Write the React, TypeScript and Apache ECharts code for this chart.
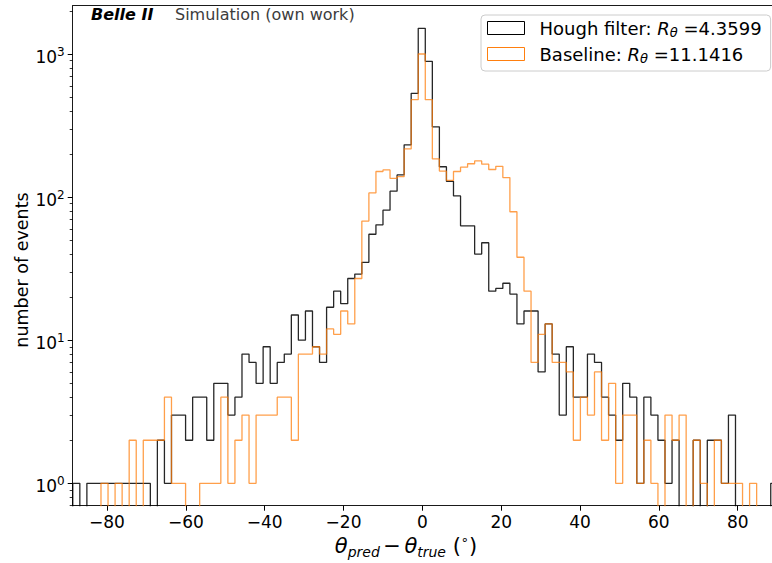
import React, { useEffect, useRef } from 'react';
import * as echarts from 'echarts';

// ---- data ----
const X_START = -88.68; // left edge of first bin (degrees)
const BIN_WIDTH = 1.7885; // bin width (degrees)
const X_MIN = -88.7;
const X_MAX = 88.7;
const Y_MIN = 0.6975;
const Y_MAX = 2176;
const X_TICKS = [-80, -60, -40, -20, 0, 20, 40, 60, 80];
const Y_DECADES = [0, 1, 2, 3];

const HOUGH_COUNTS = [
  1, 0, 1, 1, 1, 1, 1, 1, 1, 1,
  1, 0, 2, 1, 3, 3, 2, 4, 4, 2,
  5, 5, 3, 4, 8, 7, 5, 9, 5, 7,
  8, 15, 10, 16, 9, 7, 17, 22, 18, 27,
  29, 35, 55, 64, 81, 110, 143, 232, 531, 1511,
  889, 310, 163, 129, 102, 63, 63, 40, 48, 22,
  23, 25, 21, 13, 16, 16, 6, 13, 8, 3,
  9, 4, 4, 8, 7, 4, 3, 2, 5, 4,
  1, 4, 3, 2, 1, 2, 0, 0, 2, 0,
  2, 2, 1, 3, 0, 0, 0, 0, 0, 1,
];

const BASELINE_COUNTS = [
  0, 0, 0, 0, 1, 0, 1, 0, 2, 0,
  2, 2, 2, 4, 1, 1, 0, 0, 1, 1,
  1, 4, 1, 2, 3, 1, 3, 3, 3, 4,
  4, 2, 8, 8, 9, 8, 12, 11, 16, 13,
  27, 68, 107, 151, 155, 135, 139, 217, 480, 1000,
  480, 185, 152, 131, 151, 162, 171, 179, 170, 156,
  164, 137, 79, 38, 22, 7, 11, 13, 7, 7,
  6, 2, 4, 3, 6, 2, 5, 1, 3, 3,
  1, 2, 1, 0, 3, 2, 3, 0, 2, 1,
  0, 2, 1, 1, 1, 0, 1, 0, 0, 0,
];

const SERIES_NAMES = ['Hough filter', 'Baseline'];
const R_VALUES = ['4.3599', '11.1416'];

// empty bins go below the visible log range (clipped), like matplotlib
const EMPTY_BIN = 1e-3;

function stepData(counts: number[]) {
  const pts: number[][] = [[X_START, EMPTY_BIN]];
  counts.forEach((c, i) => {
    pts.push([X_START + i * BIN_WIDTH, c > 0 ? c : EMPTY_BIN]);
  });
  pts.push([X_START + counts.length * BIN_WIDTH, EMPTY_BIN]);
  return pts;
}

function minorTicks() {
  const out: number[] = [];
  for (let n = -1; n <= 3; n++) {
    for (let m = 2; m <= 9; m++) {
      const v = m * Math.pow(10, n);
      if (v >= Y_MIN && v <= Y_MAX) out.push(Math.log10(v));
    }
  }
  return out;
}

const FONT = 'DejaVu Sans';

export default function App() {
  const ref = useRef<HTMLDivElement>(null);

  useEffect(() => {
    if (!ref.current) return;
    const chart = echarts.init(ref.current, null, { renderer: 'svg' });
    const lmin = Math.log10(Y_MIN);
    const lmax = Math.log10(Y_MAX);
    const spine = { color: '#000', width: 0.9 };

    const option: any = {
      animation: false,
      backgroundColor: '#ffffff',
      grid: { left: 72.7, top: 5.7, width: 699.3, height: 500, containLabel: false },
      xAxis: [
        {
          type: 'value',
          min: X_MIN,
          max: X_MAX,
          position: 'bottom',
          axisLine: { show: true, onZero: false, lineStyle: spine },
          axisTick: { show: true, customValues: X_TICKS, length: 5, lineStyle: { color: '#000', width: 1 } },
          axisLabel: {
            show: true,
            customValues: X_TICKS,
            margin: 8,
            fontSize: 17,
            fontFamily: FONT,
            color: '#000',
            formatter: (v: number) => (v < 0 ? '\u2212' + Math.abs(v) : String(v)),
          },
          splitLine: { show: false },
        },
        {
          type: 'value',
          min: X_MIN,
          max: X_MAX,
          position: 'top',
          axisLine: { show: true, onZero: false, lineStyle: spine },
          axisTick: { show: false },
          axisLabel: { show: false },
          splitLine: { show: false },
        },
      ],
      yAxis: [
        {
          type: 'log',
          logBase: 10,
          min: Y_MIN,
          max: Y_MAX,
          axisLine: { show: false, onZero: false },
          axisTick: { show: false },
          axisLabel: { show: false },
          splitLine: { show: false },
        },
        {
          type: 'value',
          min: lmin,
          max: lmax,
          position: 'left',
          axisLine: { show: true, onZero: false, lineStyle: spine },
          axisTick: { show: true, customValues: Y_DECADES, length: 5, lineStyle: { color: '#000', width: 1 } },
          axisLabel: {
            show: true,
            customValues: Y_DECADES,
            margin: 8,
            padding: [6, 0, 0, 0],
            formatter: (v: number) => `{b|10}{s|${Math.round(v)}}`,
            rich: {
              b: { fontSize: 17, fontFamily: FONT, color: '#000', lineHeight: 22 },
              s: { fontSize: 12, fontFamily: FONT, color: '#000', lineHeight: 12, verticalAlign: 'top' },
            },
          },
          splitLine: { show: false },
        },
        {
          type: 'value',
          min: lmin,
          max: lmax,
          position: 'left',
          axisLine: { show: false, onZero: false },
          axisTick: { show: true, customValues: minorTicks(), length: 3, lineStyle: { color: '#000', width: 0.8 } },
          axisLabel: { show: false },
          splitLine: { show: false },
        },
      ],
      legend: {
        show: true,
        orient: 'vertical',
        left: 481,
        top: 15,
        padding: [4, 9, 6, 6],
        itemGap: 6,
        itemWidth: 37,
        itemHeight: 13,
        selectedMode: false,
        backgroundColor: 'rgba(255,255,255,0.8)',
        borderColor: '#cccccc',
        borderWidth: 1,
        borderRadius: 4,
        data: [
          { name: SERIES_NAMES[0], icon: 'rect', itemStyle: { color: 'rgba(0,0,0,0)', borderColor: '#000', borderWidth: 1 } },
          { name: SERIES_NAMES[1], icon: 'rect', itemStyle: { color: 'rgba(0,0,0,0)', borderColor: '#ff7f0e', borderWidth: 1 } },
        ],
        formatter: (name: string) => {
          const i = SERIES_NAMES.indexOf(name);
          return `{t|${name}: }{i|R}{s|θ}{t| =${R_VALUES[i]}}`;
        },
        textStyle: {
          color: '#000',
          padding: [0, 0, 0, 10],
          rich: {
            t: { fontSize: 18, fontFamily: FONT, color: '#000', lineHeight: 22 },
            i: { fontSize: 18, fontFamily: FONT, fontStyle: 'italic', color: '#000', lineHeight: 22 },
            s: { fontSize: 13, fontFamily: FONT, fontStyle: 'italic', color: '#000', lineHeight: 13, verticalAlign: 'bottom' },
          },
        },
      },
      series: [
        {
          type: 'line',
          name: SERIES_NAMES[0],
          xAxisIndex: 0,
          yAxisIndex: 0,
          step: 'end',
          data: stepData(HOUGH_COUNTS),
          symbol: 'none',
          showSymbol: false,
          silent: true,
          clip: true,
          z: 2,
          lineStyle: { color: '#000', width: 1.3, opacity: 0.85 },
          itemStyle: { color: '#000' },
        },
        {
          type: 'line',
          name: SERIES_NAMES[1],
          xAxisIndex: 0,
          yAxisIndex: 0,
          step: 'end',
          data: stepData(BASELINE_COUNTS),
          symbol: 'none',
          showSymbol: false,
          silent: true,
          clip: true,
          z: 3,
          lineStyle: { color: '#ff7f0e', width: 1.3, opacity: 0.75 },
          itemStyle: { color: '#ff7f0e' },
        },
      ],
      graphic: [
        {
          type: 'text',
          left: 91,
          top: 6,
          style: { text: 'Belle II', fontSize: 16, fontWeight: 'bold', fontStyle: 'italic', fontFamily: FONT, fill: '#000' },
        },
        {
          type: 'text',
          left: 175,
          top: 6,
          style: { text: 'Simulation (own work)', fontSize: 16, fontFamily: FONT, fill: '#3c3c3c' },
        },
        {
          type: 'text',
          x: 22,
          y: 270,
          rotation: Math.PI / 2,
          style: {
            text: 'number of events',
            fontSize: 17.5,
            fontFamily: FONT,
            fill: '#000',
            textAlign: 'center',
            textVerticalAlign: 'middle',
          },
        },
        {
          type: 'text',
          x: 406,
          y: 546,
          style: {
            text: '{i|θ}{s|pred}{n|\u2006−\u2006}{i|θ}{s|true}{n| (}{u|∘}{n|)}',
            textAlign: 'center',
            textVerticalAlign: 'middle',
            fill: '#000',
            rich: {
              i: { fontSize: 21, fontFamily: FONT, fontStyle: 'italic', fill: '#000', lineHeight: 26 },
              n: { fontSize: 21, fontFamily: FONT, fill: '#000', lineHeight: 26 },
              s: { fontSize: 14, fontFamily: FONT, fontStyle: 'italic', fill: '#000', lineHeight: 14, verticalAlign: 'bottom' },
              u: { fontSize: 13, fontFamily: FONT, fill: '#000', lineHeight: 13, verticalAlign: 'top' },
            },
          },
        },
      ],
    };

    chart.setOption(option);
    return () => chart.dispose();
  }, []);

  return (
    <div
      ref={ref}
      style={{ position: 'absolute', left: 0, top: 0, width: 772, height: 563, background: '#fff' }}
    />
  );
}
